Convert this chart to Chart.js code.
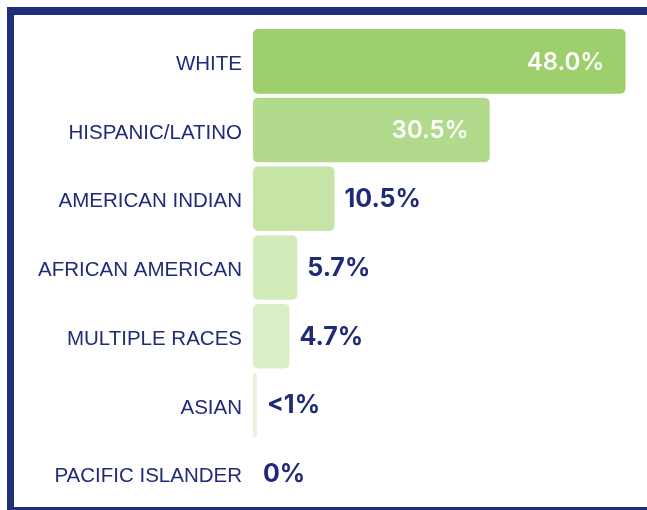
<!DOCTYPE html>
<html>
<head>
<meta charset="utf-8">
<script src="https://cdn.jsdelivr.net/npm/chart.js@4"></script>
<style>
  html, body { margin: 0; padding: 0; background: #fff; }
  #wrap { position: relative; width: 647px; height: 510px; overflow: hidden; }
  #mycanvas { position: absolute; left: 0; top: 0; }
  .edge { position: absolute; background: #22307c; }
</style>
</head>
<body>
<div id="wrap">
  <canvas id="mycanvas" width="647" height="510"></canvas>
  <div class="edge" style="left:7px;top:7px;width:640px;height:8px"></div>
  <div class="edge" style="left:7px;top:7px;width:7px;height:503px"></div>
  <div class="edge" style="left:7px;top:507px;width:640px;height:3px"></div>
</div>
<script>
var groups = ["WHITE", "HISPANIC/LATINO", "AMERICAN INDIAN", "AFRICAN AMERICAN", "MULTIPLE RACES", "ASIAN", "PACIFIC ISLANDER"];
var shares = [48.0, 30.5, 10.5, 5.7, 4.7, 0.5, 0];
var shareText = ["48.0%", "30.5%", "10.5%", "5.7%", "4.7%", "<1%", "0%"];

var barColors = ["#9dcf6c", "#b2da8c", "#c5e4a5", "#d3eabb", "#dbeec8", "#e6f2d9", "#eef7e6"];
var navy = "#1f2b78";

// percent labels: white inside the two long bars, navy after the rest
var valueLabels = {
  id: "valueLabels",
  afterDatasetsDraw: function(chart) {
    var ctx = chart.ctx;
    var meta = chart.getDatasetMeta(0);
    ctx.save();
    ctx.textBaseline = "middle";
    meta.data.forEach(function(bar, i) {
      if (i < 2) {
        ctx.font = "600 24px Inter, 'Noto Sans', sans-serif";
        ctx.fillStyle = "#ffffff";
        ctx.textAlign = "right";
        ctx.fillText(shareText[i], bar.x - 21, bar.y + 1);
      } else {
        ctx.font = "bold 25px Inter, 'Noto Sans', sans-serif";
        ctx.fillStyle = navy;
        ctx.textAlign = "left";
        ctx.fillText(shareText[i], bar.x + 10, bar.y + 1);
      }
    });
    ctx.restore();
  }
};

var ctx = document.getElementById("mycanvas");
var chart = new Chart(ctx, {
  type: "bar",
  data: {
    labels: groups,
    datasets: [{
      data: shares,
      backgroundColor: barColors,
      borderRadius: 5,
      borderSkipped: false,
      barPercentage: 0.94,
      categoryPercentage: 1
    }]
  },
  options: {
    indexAxis: "y",
    responsive: false,
    animation: false,
    layout: { padding: { top: 27, bottom: 2, left: 0, right: 6 } },
    plugins: { legend: { display: false }, tooltip: { enabled: false } },
    scales: {
      x: { display: false, min: 0, max: 50 },
      y: {
        grid: { display: false, drawTicks: false },
        border: { display: false },
        ticks: {
          color: navy,
          padding: 11,
          labelOffset: 3,
          font: { family: "'Liberation Sans', Arial, sans-serif", size: 20.5 }
        },
        afterFit: function(scale) {
          scale.width = 253;
          scale.paddingTop = 0;
          scale.paddingBottom = 0;
        }
      }
    }
  },
  plugins: [valueLabels]
});
</script>
</body>
</html>
